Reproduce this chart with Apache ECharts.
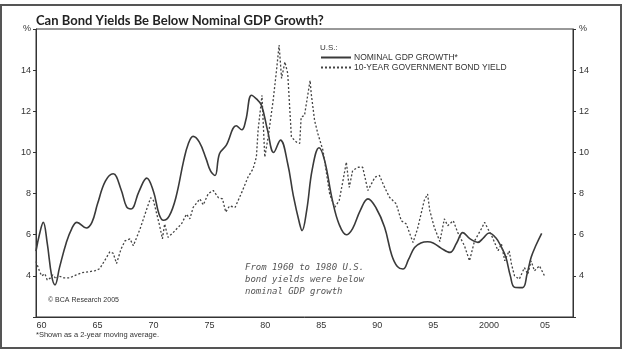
<!DOCTYPE html>
<html>
<head>
<meta charset="utf-8">
<script src="https://cdn.jsdelivr.net/npm/echarts@6/dist/echarts.min.js"></script>
<style>
html,body{margin:0;padding:0;background:#fff;}
#chart{width:623px;height:355px;}
</style>
</head>
<body>
<div id="chart"></div>
<script>
// Years shown as band categories on the bottom axis
const years = [];
for (let y = 1960; y <= 2007; y++) years.push(y);
const yTicks = [2, 4, 6, 8, 10, 12, 14, 16];

// Nominal GDP growth (2-year moving average), [year, %]
const gdpGrowth = [
  [1960.0,5.2],[1960.3,6.0],[1960.65,6.6],[1961.0,5.6],[1961.4,4.0],[1961.7,3.56],[1962.1,4.4],[1962.7,5.6],
  [1963.2,6.3],[1963.66,6.6],[1964.5,6.33],[1965.0,6.6],[1965.5,7.5],[1966.2,8.6],[1966.9,8.96],[1967.6,8.2],
  [1968.1,7.35],[1968.5,7.25],[1969.2,8.1],[1969.9,8.75],[1970.5,8.1],[1971.0,7.0],[1971.4,6.7],[1971.9,6.9],
  [1972.5,7.8],[1973.2,9.6],[1973.6,10.4],[1974.04,10.78],[1974.6,10.5],[1975.2,9.7],[1975.6,9.1],[1976.0,8.88],
  [1976.4,9.94],[1977.0,10.34],[1977.9,11.3],[1978.4,11.1],[1978.75,11.56],[1979.26,12.78],[1979.7,12.6],
  [1980.15,12.3],[1980.7,11.07],[1981.25,10.0],[1981.85,10.6],[1982.5,9.45],[1983.0,7.9],[1983.57,6.52],
  [1983.78,6.2],[1984.2,7.2],[1984.7,9.2],[1985.3,10.23],[1985.8,9.6],[1986.5,7.66],[1987.1,6.5],[1987.74,6.0],
  [1988.3,6.3],[1989.0,7.2],[1989.67,7.74],[1990.4,7.3],[1991.16,6.36],[1991.8,5.0],[1992.3,4.45],[1992.8,4.33],
  [1993.3,4.8],[1993.84,5.38],[1994.4,5.6],[1995.0,5.66],[1995.5,5.6],[1996.2,5.35],[1997.0,5.14],[1997.6,5.6],
  [1998.15,6.1],[1998.8,5.8],[1999.5,5.63],[2000.0,5.85],[2000.5,6.08],[2001.1,5.85],[2001.6,5.4],[2002.0,4.9],
  [2002.4,4.0],[2002.77,3.45],[2003.5,3.43],[2003.9,4.1],[2004.26,4.9],[2004.7,5.5],[2005.2,6.07]
];

// 10-year government bond yield, [year, %]
const bondYield = [
  [1960.0,4.7],[1960.3,4.25],[1960.5,4.0],[1960.8,4.1],[1961.0,3.8],[1961.3,3.9],[1961.5,4.05],[1961.8,3.85],
  [1962.0,4.0],[1962.5,3.9],[1963.0,3.9],[1963.6,4.05],[1964.1,4.15],[1964.7,4.2],[1965.3,4.25],[1965.7,4.35],
  [1966.2,4.8],[1966.6,5.17],[1966.9,5.1],[1967.2,4.6],[1967.6,5.3],[1967.95,5.7],[1968.4,5.8],[1968.7,5.46],
  [1969.3,6.28],[1969.9,7.25],[1970.25,7.8],[1970.5,7.66],[1971.05,6.44],[1971.3,5.8],[1971.5,6.52],[1971.8,5.87],
  [1972.25,6.1],[1972.6,6.3],[1973.0,6.52],[1973.45,7.0],[1973.75,6.77],[1974.05,7.33],[1974.65,7.74],[1974.95,7.45],
  [1975.4,8.0],[1975.85,8.15],[1976.3,7.8],[1976.67,7.74],[1976.96,7.1],[1977.3,7.4],[1977.8,7.33],[1978.4,8.07],
  [1978.95,8.8],[1979.4,9.2],[1979.7,9.77],[1979.85,11.07],[1980.2,12.78],[1980.45,9.77],[1980.75,10.75],
  [1981.2,12.54],[1981.5,14.0],[1981.73,15.22],[1981.95,13.6],[1982.25,14.4],[1982.5,13.84],[1982.83,10.75],
  [1983.28,10.5],[1983.57,10.44],[1983.7,11.72],[1984.0,11.8],[1984.5,13.5],[1984.6,12.86],[1984.9,11.56],
  [1985.2,10.9],[1985.65,10.1],[1986.25,7.98],[1986.7,7.33],[1987.1,7.66],[1987.44,8.63],[1987.74,9.53],
  [1988.0,8.3],[1988.3,9.12],[1988.8,9.28],[1989.2,9.28],[1989.67,8.15],[1990.3,8.8],[1990.7,8.88],[1991.16,8.3],
  [1991.6,7.82],[1992.2,7.5],[1992.65,6.68],[1993.1,6.52],[1993.7,5.62],[1994.1,6.28],[1994.7,7.66],[1995.0,7.98],
  [1995.2,7.17],[1995.6,6.36],[1996.1,5.67],[1996.5,6.77],[1996.8,6.44],[1997.3,6.68],[1997.7,6.1],[1998.3,5.46],
  [1998.75,4.73],[1999.2,5.7],[1999.8,6.28],[2000.1,6.6],[2000.4,6.28],[2000.8,5.87],[2001.3,5.22],[2001.6,5.55],
  [2001.9,4.73],[2002.3,5.22],[2002.5,4.57],[2002.77,4.0],[2003.2,3.84],[2003.66,4.4],[2003.96,4.08],
  [2004.26,4.73],[2004.55,4.24],[2005.0,4.49],[2005.45,4.0]
];

const seriesNames = ['NOMINAL GDP GROWTH*', '10-YEAR GOVERNMENT BOND YIELD'];

const chart = echarts.init(document.getElementById('chart'), null, {renderer: 'canvas'});

function yFmt(v) {
  if (v === yTicks[yTicks.length - 1]) return '%';
  if (v === yTicks[0]) return '';
  return String(v);
}
function xFmt(v) {
  const y = Number(v);
  if (y === 2000) return '2000';
  return String(y % 100).padStart(2, '0');
}

const axisFont = {fontFamily: 'Liberation Sans', fontSize: 9, color: '#333'};

chart.setOption({
  backgroundColor: '#fff',
  animation: false,
  title: {
    text: 'Can Bond Yields Be Below Nominal GDP Growth?',
    left: 31, top: 9,
    textStyle: {fontFamily: 'Lato', fontSize: 13, fontWeight: 'bold', color: '#222'}
  },
  legend: {
    data: seriesNames,
    orient: 'vertical',
    left: 315, top: 48,
    itemWidth: 30, itemHeight: 8, itemGap: 1,
    itemStyle: {opacity: 0},
    textStyle: {fontFamily: 'Liberation Sans', fontSize: 8.5, color: '#333', padding: [0, 0, 0, -2]}
  },
  grid: {left: 36, right: 50, top: 29, bottom: 38, show: true, borderColor: '#333', borderWidth: 1},
  xAxis: [
    {type: 'value', min: 1960, max: 2008, show: false},
    {
      type: 'category', data: years, boundaryGap: true, position: 'bottom',
      axisLine: {lineStyle: {color: '#333'}},
      axisTick: {inside: true, length: 6, interval: 0, lineStyle: {color: '#333'}},
      axisLabel: Object.assign({interval: 4, margin: 4, formatter: xFmt}, axisFont)
    }
  ],
  yAxis: [
    {
      type: 'value', min: 2, max: 16, interval: 2, position: 'left',
      splitLine: {show: false},
      axisLine: {show: true, lineStyle: {color: '#333'}},
      axisTick: {show: true, length: 3, lineStyle: {color: '#333'}},
      axisLabel: Object.assign({margin: 5, formatter: yFmt}, axisFont)
    },
    {
      type: 'value', min: 2, max: 16, interval: 2, position: 'right',
      splitLine: {show: false},
      axisLine: {show: true, lineStyle: {color: '#333'}},
      axisTick: {show: true, length: 3, lineStyle: {color: '#333'}},
      axisLabel: Object.assign({margin: 6, formatter: yFmt}, axisFont)
    }
  ],
  series: [
    {
      name: seriesNames[0], type: 'line', xAxisIndex: 0, yAxisIndex: 0,
      data: gdpGrowth, smooth: 0.4, symbol: 'none',
      lineStyle: {color: '#3a3a3a', width: 1.6}, itemStyle: {color: '#3a3a3a'}
    },
    {
      name: seriesNames[1], type: 'line', xAxisIndex: 0, yAxisIndex: 0,
      data: bondYield, smooth: false, symbol: 'none',
      lineStyle: {color: '#444', width: 1.3, type: [2, 2]}, itemStyle: {color: '#444'}
    }
  ],
  graphic: [
    {type: 'rect', shape: {x: 1, y: 5, width: 620, height: 343}, style: {fill: 'none', stroke: '#555', lineWidth: 2}, silent: true},
    {type: 'text', left: 320, top: 44, style: {text: 'U.S.:', fontFamily: 'Liberation Sans', fontSize: 8, fill: '#333'}},
    {type: 'text', left: 48, top: 297, style: {text: '© BCA Research 2005', fontFamily: 'Liberation Sans', fontSize: 7, fill: '#333'}},
    {type: 'text', left: 36, top: 331, style: {text: '*Shown as a 2-year moving average.', fontFamily: 'Liberation Sans', fontSize: 7.5, fill: '#333'}},
    {type: 'text', left: 245, top: 262, style: {
      text: 'From 1960 to 1980 U.S.\nbond yields were below\nnominal GDP growth',
      fontFamily: 'DejaVu Sans Mono', fontStyle: 'italic', fontSize: 9, lineHeight: 12, fill: '#555'}}
  ]
});
</script>
</body>
</html>
